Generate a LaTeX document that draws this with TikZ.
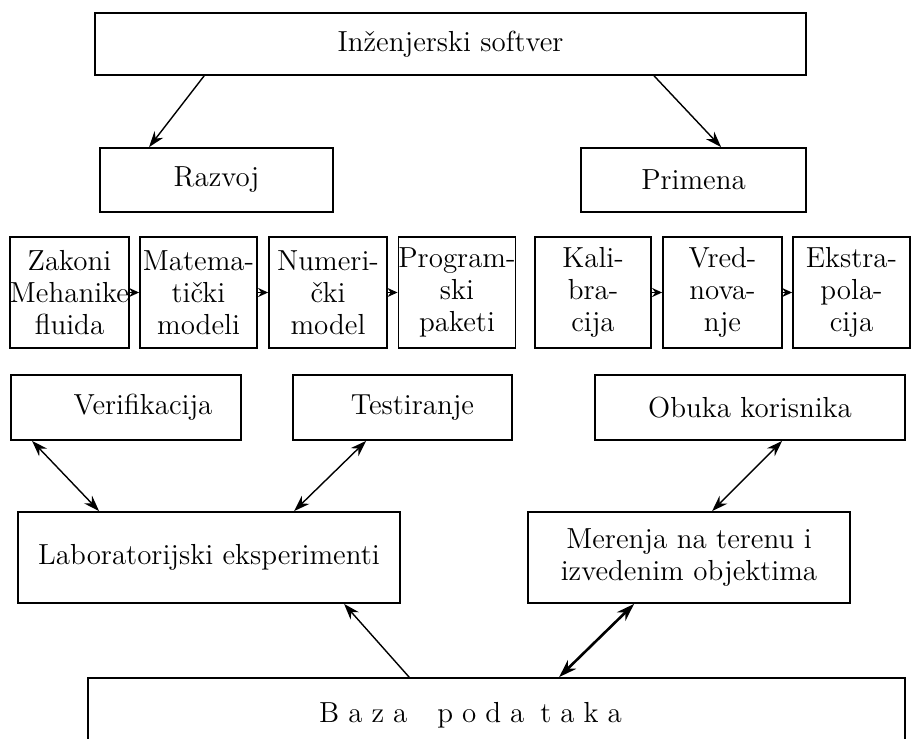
\documentclass[tikz,border=0pt]{standalone}
\usetikzlibrary{arrows.meta}
\tikzset{
  box/.style={draw, line width=0.9pt, inner sep=0pt, align=center,
    font=\fontsize{14.5}{16}\selectfont},
  arr/.style={-{Stealth[length=8pt,width=5.5pt]}, line width=0.7pt},
  darr/.style={{Stealth[length=8pt,width=5.5pt]}-{Stealth[length=8pt,width=5.5pt]}, line width=0.7pt},
  tarr/.style={{Stealth[length=9pt,width=6pt]}-{Stealth[length=9pt,width=6pt]}, line width=1.3pt},
  sarr/.style={-{Stealth[length=5pt,width=4.5pt]}, line width=0.8pt}
}
\begin{document}
\begin{tikzpicture}[x=0.5pt,y=-0.5pt]
\useasboundingbox (0,0) rectangle (913,738);
\clip (0,0) rectangle (913,738);
% top levels
\node[box, minimum width=355.5pt, minimum height=31pt] (top) at (450.5,44) {Inženjerski softver};
\node[box, minimum width=116.5pt, minimum height=32pt] (raz) at (216.5,180) {Razvoj};
\node[box, minimum width=112.5pt, minimum height=32pt] (pri) at (693.5,180) {Primena};
% row of steps
\node[box, minimum width=58.5pt, minimum height=55.5pt] (b1) at (69.5,292.5) {Zakoni\\Mehanike\\fluida};
\node[box, minimum width=58.5pt, minimum height=55.5pt] (b2) at (198.5,292.5) {Matema-\\tički\\modeli};
\node[box, minimum width=59pt, minimum height=55.5pt] (b3) at (328,292.5) {Numeri-\\čki\\model};
\node[box, minimum width=58pt, minimum height=55.5pt] (b4) at (457,292.5) {Program-\\ski\\paketi};
\node[box, minimum width=58pt, minimum height=55.5pt] (b5) at (593,292.5) {Kali-\\bra-\\cija};
\node[box, minimum width=59.5pt, minimum height=55.5pt] (b6) at (722.5,292.5) {Vred-\\nova-\\nje};
\node[box, minimum width=58.5pt, minimum height=55.5pt] (b7) at (851.5,292.5) {Ekstra-\\pola-\\cija};
% middle boxes
\node[box, minimum width=115pt, minimum height=32.5pt] (ver) at (126,407.5) {\hspace*{17pt}Verifikacija};
\node[box, minimum width=109.5pt, minimum height=32.5pt] (tes) at (402.5,407.5) {\hspace*{10pt}Testiranje};
\node[box, minimum width=155pt, minimum height=32.5pt] (obu) at (750,407.5) {Obuka korisnika};
\node[box, minimum width=191pt, minimum height=45.5pt] (lab) at (209,557.5) {Laboratorijski eksperimenti};
\node[box, minimum width=161pt, minimum height=45.5pt] (mer) at (689,557.5) {Merenja na terenu i\\izvedenim objektima};
\node[box, minimum width=408.5pt, minimum height=37pt] (baz) at (496.5,715) {\hspace*{-26pt}B\hspace{4.5pt}a\hspace{4.5pt}z\hspace{4.5pt}a\hspace{15pt}p\hspace{4.5pt}o\hspace{4.5pt}d\hspace{4.5pt}a\hspace{8pt}t\hspace{4.5pt}a\hspace{4.5pt}k\hspace{4.5pt}a};
% connectors
\draw[arr] ([xshift=55pt]top.south west) -- ([xshift=25pt]raz.north west);
\draw[arr] ([xshift=280pt]top.south west) -- ([xshift=70.5pt]pri.north west);
\draw[sarr] (b1.east) -- (b2.west);
\draw[sarr] (b2.east) -- (b3.west);
\draw[sarr] (b3.east) -- (b4.west);
\draw[sarr] (b5.east) -- (b6.west);
\draw[sarr] (b6.east) -- (b7.west);
\draw[darr] ([xshift=11pt]ver.south west) -- ([xshift=41pt]lab.north west);
\draw[darr] ([xshift=37pt]tes.south west) -- ([xshift=138.5pt]lab.north west);
\draw[darr] ([xshift=94pt]obu.south west) -- ([xshift=92.5pt]mer.north west);
\draw[arr] ([xshift=161pt]baz.north west) -- ([xshift=163.5pt]lab.south west);
\draw[tarr] ([xshift=236pt]baz.north west) -- ([xshift=53.5pt]mer.south west);
\end{tikzpicture}
\end{document}
